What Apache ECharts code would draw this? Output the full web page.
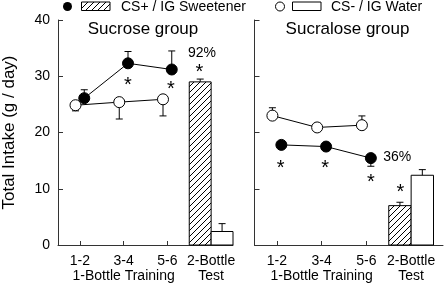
<!DOCTYPE html>
<html><head><meta charset="utf-8">
<script src="https://cdn.jsdelivr.net/npm/echarts@6/dist/echarts.min.js"></script>
<style>html,body{margin:0;padding:0;background:#fff}#c{width:444px;height:284px}</style>
</head><body><div id="c"></div>
<script>
// ---------- data ----------
const periodLabels = ['1-2', '3-4', '5-6', '2-Bottle\nTest'];
const phaseLabel = '1-Bottle Training';
const yTicks = [0, 10, 20, 30, 40];

// Sucrose group
const sucroseCSplus = [26.1, 32.3, 31.2];
const sucroseCSplusErr = [1.5, 2.1, 3.3];
const sucroseCSminus = [24.85, 25.4, 25.9];
const sucroseCSminusErr = [1.0, 3.0, 2.95];
const sucroseTest = [29.0, 2.4];          // [CS+, CS-]
const sucroseTestErr = [0.5, 1.4];
const sucrosePct = '92%';
const sucroseSig = [[1.6, 29.0], [2.58, 28.3], [3.23, 31.3]];

// Sucralose group
const sucraloseCSplus = [17.8, 17.5, 15.45];
const sucraloseCSplusErr = [0.4, 0.4, 1.45];
const sucraloseCSminus = [23.0, 20.9, 21.3];
const sucraloseCSminusErr = [1.4, 0.5, 1.65];
const sucraloseTest = [7.0, 12.4];
const sucraloseTestErr = [0.6, 1.0];
const sucralosePct = '36%';
const sucraloseSig = [[0.585, 14.4], [1.58, 14.4], [2.6, 11.9], [3.26, 10.1]];

// ---------- helpers ----------
const FONT = 'Liberation Sans, Arial, sans-serif';
function hatch() {
  const c = document.createElement('canvas');
  c.width = 6; c.height = 6;
  const g = c.getContext('2d');
  g.fillStyle = '#fff'; g.fillRect(0, 0, 6, 6);
  g.strokeStyle = '#000'; g.lineWidth = 1;
  g.beginPath();
  g.moveTo(-1, 7); g.lineTo(7, -1);
  g.moveTo(-4, 4); g.lineTo(4, -4);
  g.moveTo(2, 10); g.lineTo(10, 2);
  g.stroke();
  return { image: c, repeat: 'repeat' };
}
const HATCH = hatch();
const OFF = 0.1;

function pts(vals, off) { return vals.map((v, i) => [i + 0.5 + off, v]); }
function errs(vals, e, off, dir) { return vals.map((v, i) => [i + 0.5 + off, v, v + dir * e[i]]); }

function errorSeries(idx, data) {
  return {
    type: 'custom', xAxisIndex: idx, yAxisIndex: idx, z: 2, silent: true,
    encode: { x: 0, y: [1, 2] }, data,
    renderItem(params, api) {
      const a = api.coord([api.value(0), api.value(1)]);
      const b = api.coord([api.value(0), api.value(2)]);
      const st = { stroke: '#000', lineWidth: 1 };
      return { type: 'group', children: [
        { type: 'line', shape: { x1: a[0], y1: a[1], x2: b[0], y2: b[1] }, style: st },
        { type: 'line', shape: { x1: b[0] - 3.5, y1: b[1], x2: b[0] + 3.5, y2: b[1] }, style: st }
      ]};
    }
  };
}
function barSeries(idx, test) {
  const data = [[3, 3.5, test[0], 0], [3.5, 4, test[1], 1]];
  return {
    type: 'custom', xAxisIndex: idx, yAxisIndex: idx, z: 1, silent: true,
    encode: { x: [0, 1], y: 2 }, data,
    renderItem(params, api) {
      const p0 = api.coord([api.value(0), api.value(2)]);
      const p1 = api.coord([api.value(1), 0]);
      const hatched = api.value(3) === 0;
      return { type: 'rect',
        shape: { x: p0[0], y: p0[1], width: p1[0] - p0[0], height: p1[1] - p0[1] },
        style: { fill: hatched ? HATCH : '#fff', stroke: '#000', lineWidth: 1 } };
    }
  };
}
function lineSeries(idx, data, filled) {
  return {
    type: 'line', xAxisIndex: idx, yAxisIndex: idx, z: 3, silent: true, data,
    symbol: 'circle', symbolSize: 11, showAllSymbol: true,
    lineStyle: { color: '#000', width: 1 },
    itemStyle: { color: filled ? '#000' : '#fff', borderColor: '#000', borderWidth: 1 }
  };
}
function textSeries(idx, data, text, size, dy) {
  return {
    type: 'custom', xAxisIndex: idx, yAxisIndex: idx, z: 4, silent: true,
    encode: { x: 0, y: 1 }, data,
    renderItem(params, api) {
      const p = api.coord([api.value(0), api.value(1)]);
      return { type: 'text', x: p[0], y: p[1] + dy,
        style: { text, font: size + 'px ' + FONT, fill: '#000', align: 'center', verticalAlign: 'middle' } };
    }
  };
}

function xAxis(idx, max) {
  return {
    type: 'value', gridIndex: idx, min: 0, max,
    axisLine: { show: true, lineStyle: { color: '#333', width: 1 } },
    axisTick: { show: true, inside: true, length: 4, customValues: [0.5, 1.5, 2.5], lineStyle: { color: '#333' } },
    axisLabel: { show: true, customValues: [0.5, 1.5, 2.5, 3.5], margin: 9,
      showMinLabel: true, showMaxLabel: true, hideOverlap: false,
      formatter: v => periodLabels[Math.round(v - 0.5)],
      fontSize: 14, lineHeight: 15, color: '#000', fontFamily: FONT },
    splitLine: { show: false }
  };
}
function phaseAxis(idx, max) {
  return {
    type: 'value', gridIndex: idx, min: 0, max, position: 'bottom', offset: 0,
    axisLine: { show: false }, axisTick: { show: false }, splitLine: { show: false },
    axisLabel: { show: true, customValues: [1.5], margin: 24, formatter: () => phaseLabel,
      showMinLabel: true, showMaxLabel: true,
      fontSize: 14, lineHeight: 15, color: '#000', fontFamily: FONT }
  };
}
function yAxis(idx, showLabels) {
  return {
    type: 'value', gridIndex: idx, min: 0, max: 40, interval: 10,
    axisLine: { show: true, lineStyle: { color: '#333', width: 1 } },
    axisTick: { show: true, inside: true, length: 5, lineStyle: { color: '#333' } },
    axisLabel: { show: showLabels, margin: 8, fontSize: 14, color: '#000', fontFamily: FONT,
      showMinLabel: true, showMaxLabel: true },
    splitLine: { show: false },
    name: showLabels ? 'Total Intake (g / day)' : '',
    nameLocation: 'middle', nameGap: 40, nameRotate: 90,
    nameTextStyle: { fontSize: 17, color: '#000', fontFamily: FONT }
  };
}

const chart = echarts.init(document.getElementById('c'), null, { renderer: 'canvas' });
chart.setOption({
  animation: false,
  backgroundColor: '#fff',
  grid: [
    { left: 54, width: 179, top: 20, bottom: 38.7 },
    { left: 254.5, right: 1, top: 20, bottom: 38.7 }
  ],
  xAxis: [xAxis(0, 4), xAxis(1, 4.212), phaseAxis(0, 4), phaseAxis(1, 4.212)],
  yAxis: [yAxis(0, true), yAxis(1, false)],
  graphic: [
    { type: 'text', x: 143, y: 29, style: { text: 'Sucrose group', font: '17px ' + FONT, fill: '#000', align: 'center', verticalAlign: 'middle' } },
    { type: 'text', x: 347.5, y: 29, style: { text: 'Sucralose group', font: '17px ' + FONT, fill: '#000', align: 'center', verticalAlign: 'middle' } },
    { type: 'circle', shape: { cx: 67.5, cy: 6.5, r: 4.5 }, style: { fill: '#000' } },
    { type: 'rect', shape: { x: 81.5, y: 2, width: 28.5, height: 8.5 }, style: { fill: HATCH, stroke: '#000', lineWidth: 1 } },
    { type: 'text', x: 121, y: 7, style: { text: 'CS+ / IG Sweetener', font: '14px ' + FONT, fill: '#000', align: 'left', verticalAlign: 'middle' } },
    { type: 'circle', shape: { cx: 280, cy: 6.5, r: 4.5 }, style: { fill: '#fff', stroke: '#000', lineWidth: 1 } },
    { type: 'rect', shape: { x: 292.5, y: 2, width: 28.5, height: 8.5 }, style: { fill: '#fff', stroke: '#000', lineWidth: 1 } },
    { type: 'text', x: 331, y: 7, style: { text: 'CS- / IG Water', font: '14px ' + FONT, fill: '#000', align: 'left', verticalAlign: 'middle' } }
  ],
  series: [
    barSeries(0, sucroseTest),
    errorSeries(0, [[3.25, sucroseTest[0], sucroseTest[0] + sucroseTestErr[0]], [3.75, sucroseTest[1], sucroseTest[1] + sucroseTestErr[1]]]),
    errorSeries(0, errs(sucroseCSplus, sucroseCSplusErr, OFF, 1)),
    errorSeries(0, errs(sucroseCSminus, sucroseCSminusErr, -OFF, -1)),
    lineSeries(0, pts(sucroseCSminus, -OFF), false),
    lineSeries(0, pts(sucroseCSplus, OFF), true),
    textSeries(0, sucroseSig, '*', 20, 4),
    textSeries(0, [[3.29, 34.1]], sucrosePct, 14, 0),

    barSeries(1, sucraloseTest),
    errorSeries(1, [[3.25, sucraloseTest[0], sucraloseTest[0] + sucraloseTestErr[0]], [3.75, sucraloseTest[1], sucraloseTest[1] + sucraloseTestErr[1]]]),
    errorSeries(1, errs(sucraloseCSplus, sucraloseCSplusErr, OFF, -1)),
    errorSeries(1, errs(sucraloseCSminus, sucraloseCSminusErr, -OFF, 1)),
    lineSeries(1, pts(sucraloseCSminus, -OFF), false),
    lineSeries(1, pts(sucraloseCSplus, OFF), true),
    textSeries(1, sucraloseSig, '*', 20, 4),
    textSeries(1, [[3.19, 15.55]], sucralosePct, 14, 0)
  ]
});
</script></body></html>
